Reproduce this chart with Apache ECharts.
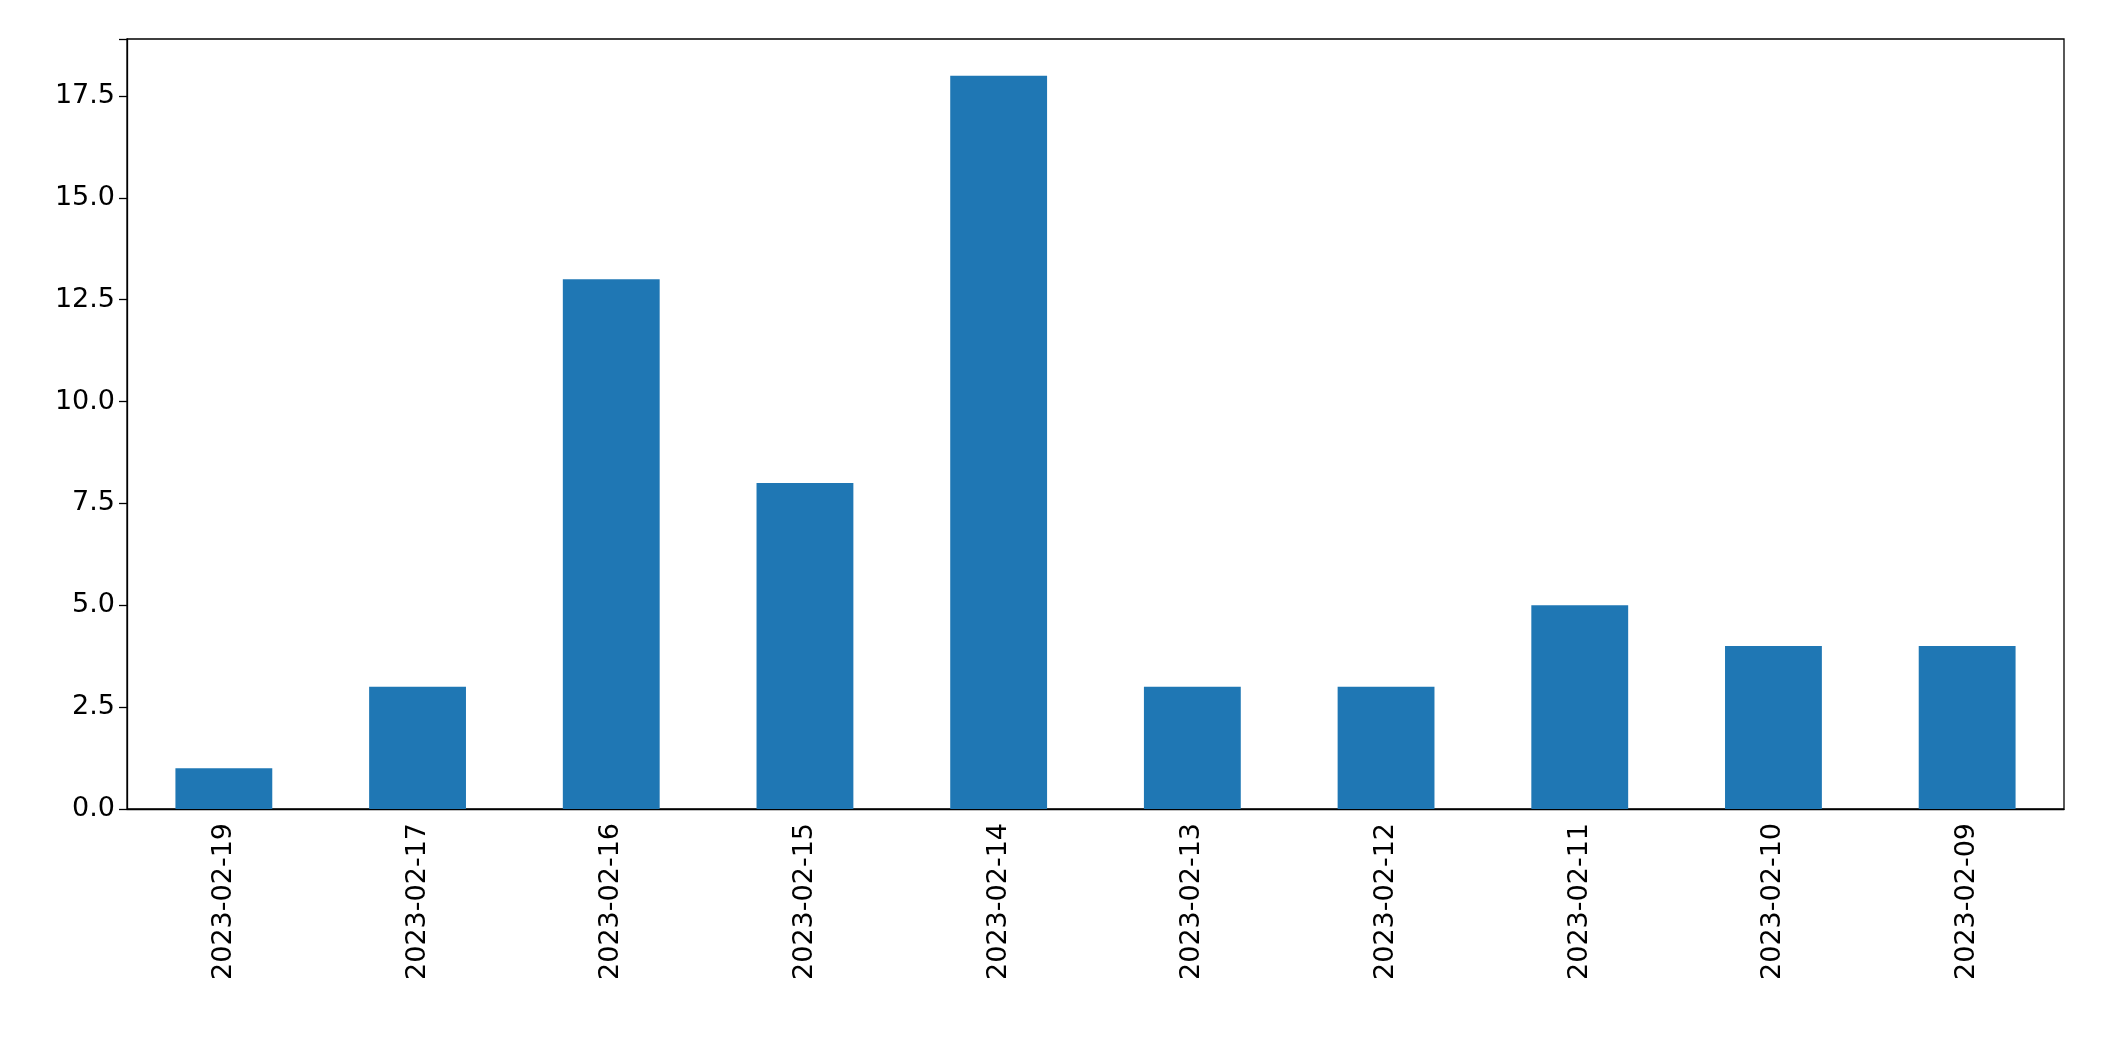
<!DOCTYPE html>
<html><head><meta charset="utf-8">
<script src="https://cdn.jsdelivr.net/npm/echarts@6/dist/echarts.min.js"></script>
<style>html,body{margin:0;padding:0;background:#fff}#c{width:2104px;height:1061px}</style>
</head><body><div id="c"></div>
<script>
const categories = ["2023-02-19","2023-02-17","2023-02-16","2023-02-15","2023-02-14","2023-02-13","2023-02-12","2023-02-11","2023-02-10","2023-02-09"];
const values = [1,3,13,8,18,3,3,5,4,4];
const yTicks = [0,2.5,5,7.5,10,12.5,15,17.5];
const chart = echarts.init(document.getElementById('c'));
const font = {fontFamily:'DejaVu Sans', fontSize:27, color:'#000'};
chart.setOption({
  animation:false,
  grid:{left:127,right:40,top:39,bottom:252,show:true,borderColor:'#000',borderWidth:1.3,backgroundColor:'transparent'},
  xAxis:{type:'category',data:categories,
    axisLine:{lineStyle:{color:'#000',width:1.3}},
    axisTick:{alignWithLabel:true,length:8,lineStyle:{color:'#000',width:1.3}},
    axisLabel:Object.assign({rotate:90,margin:14,interval:0},font)},
  yAxis:{type:'value',min:0,max:18.9,interval:2.5,
    axisLine:{show:true,lineStyle:{color:'#000',width:1.3}},
    axisTick:{show:true,length:8,lineStyle:{color:'#000',width:1.3}},
    splitLine:{show:false},
    axisLabel:Object.assign({margin:12,formatter:v=>yTicks.includes(v)?v.toFixed(1):''},font)},
  series:[{type:'bar',data:values,barWidth:'50%',itemStyle:{color:'#1f77b4'}}]
});
</script></body></html>
